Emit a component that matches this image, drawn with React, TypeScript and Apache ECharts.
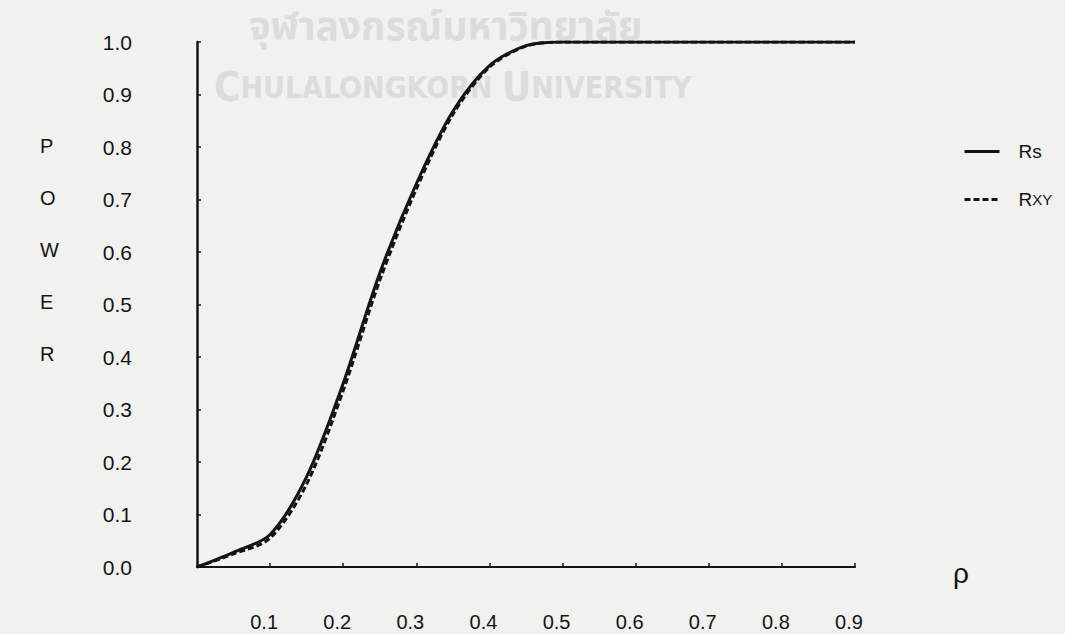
import React, { useEffect, useRef } from "react";
import * as echarts from "echarts";

// Correlation coefficient values (x) and power of the two test statistics
const rho = [0, 0.05, 0.1, 0.15, 0.2, 0.25, 0.3, 0.35, 0.4, 0.45, 0.5, 0.6, 0.7, 0.8, 0.9];
const powerRs = [0, 0.028, 0.062, 0.172, 0.35, 0.56, 0.73, 0.868, 0.955, 0.993, 1.0, 1.0, 1.0, 1.0, 1.0];
const powerRxy = [0, 0.025, 0.055, 0.158, 0.336, 0.546, 0.72, 0.862, 0.952, 0.992, 1.0, 1.0, 1.0, 1.0, 1.0];

const seriesNames = ["Rs", "Rxy"];
const yAxisTitle = ["P", "O", "W", "E", "R"];
const xAxisTitle = "ρ";
const watermarkThai = "จุฬาลงกรณ์มหาวิทยาลัย";

const INK = "#141414";
const FONT = "'Liberation Sans', Arial, sans-serif";
const MARK = "#dcdcdc";
const MARK_FONT = "'Liberation Sans Narrow', 'DejaVu Sans Condensed', Roboto, sans-serif";

export default function App() {
  const ref = useRef<HTMLDivElement>(null);

  useEffect(() => {
    if (!ref.current) return;
    const chart = echarts.init(ref.current, undefined, { renderer: "svg" });

    const toPairs = (ys: number[]) => rho.map((x, i) => [x, ys[i]]);

    chart.setOption({
      animation: false,
      backgroundColor: "#f1f1ef",
      grid: { left: 197, right: 210, top: 42, bottom: 67 },
      xAxis: {
        type: "value",
        min: 0,
        max: 0.9,
        interval: 0.1,
        splitLine: { show: false },
        axisLine: { lineStyle: { color: INK, width: 2 } },
        axisTick: { inside: true, length: 4, lineStyle: { color: INK, width: 1.5 } },
        axisLabel: {
          showMinLabel: false,
          margin: 45,
          padding: [0, 12, 0, 0],
          color: INK,
          fontSize: 20,
          fontFamily: FONT,
          formatter: (v: number) => v.toFixed(1),
        },
      },
      yAxis: {
        type: "value",
        min: 0,
        max: 1,
        interval: 0.1,
        splitLine: { show: false },
        axisLine: { show: true, lineStyle: { color: INK, width: 2.5 } },
        axisTick: { show: true, inside: true, length: 4, lineStyle: { color: INK, width: 1.5 } },
        axisLabel: {
          margin: 65,
          color: INK,
          fontSize: 21,
          fontFamily: FONT,
          formatter: (v: number) => v.toFixed(1),
        },
      },
      legend: {
        orient: "vertical",
        left: 958,
        top: 137,
        itemWidth: 35,
        itemHeight: 20,
        itemGap: 29,
        data: seriesNames,
        itemStyle: { opacity: 0 },
        lineStyle: { width: 3 },
        textStyle: {
          color: INK,
          fontSize: 19,
          fontFamily: FONT,
          padding: [0, 0, 0, 14],
          rich: {
            big: { fontSize: 19, color: INK, fontFamily: FONT },
            small: { fontSize: 15, color: INK, fontFamily: FONT },
          },
        },
        formatter: (name: string) => (name === "Rxy" ? "{big|R}{small|XY}" : "{big|Rs}"),
      },
      graphic: [
        {
          type: "text",
          z: -10,
          left: 249,
          top: 9,
          style: {
            text: watermarkThai,
            fill: MARK,
            font: "bold 39px 'Noto Sans Thai', 'Noto Sans', 'DejaVu Sans', sans-serif",
          },
        },
        {
          type: "text",
          z: -10,
          left: 214,
          top: 67,
          style: {
            text: "{b|C}{s|HULALONGKORN }{b|U}{s|NIVERSITY}",
            rich: {
              b: { fontSize: 40, fontWeight: "bold", fill: MARK, fontFamily: MARK_FONT },
              s: { fontSize: 30, fontWeight: "bold", fill: MARK, fontFamily: MARK_FONT },
            },
          },
        },
        {
          type: "text",
          left: 40,
          top: 120,
          style: {
            text: yAxisTitle.join("\n"),
            fill: INK,
            font: `20px ${FONT}`,
            lineHeight: 52,
          },
        },
        {
          type: "text",
          left: 953,
          top: 559,
          style: {
            text: xAxisTitle,
            fill: INK,
            font: `28px ${FONT}`,
          },
        },
      ],
      series: [
        {
          name: "Rs",
          type: "line",
          data: toPairs(powerRs),
          smooth: 0.3,
          symbol: "none",
          lineStyle: { color: INK, width: 3 },
          itemStyle: { color: INK },
          z: 3,
        },
        {
          name: "Rxy",
          type: "line",
          data: toPairs(powerRxy),
          smooth: 0.3,
          symbol: "none",
          lineStyle: { color: INK, width: 3, type: [6, 3] },
          itemStyle: { color: INK },
          z: 4,
        },
      ],
    });

    return () => chart.dispose();
  }, []);

  return (
    <div
      ref={ref}
      style={{ position: "fixed", left: 0, top: 0, width: 1065, height: 634 }}
    />
  );
}
